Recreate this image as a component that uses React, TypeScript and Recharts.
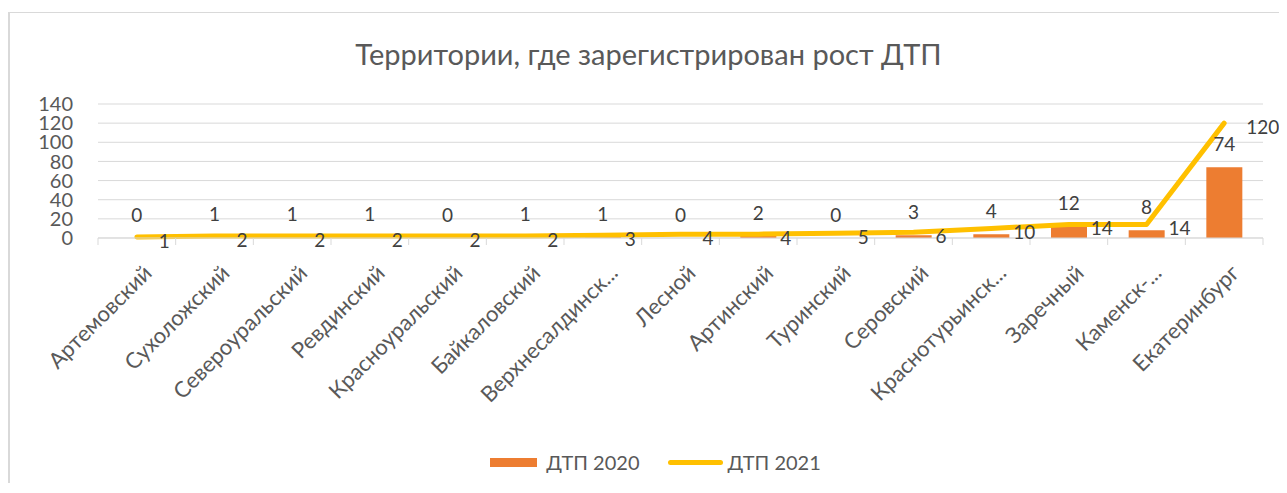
import React from "react"
import { Bar, CartesianGrid, ComposedChart, LabelList, Legend, Line, XAxis, YAxis } from "recharts"

const categories = [
  "Артемовский",
  "Сухоложский",
  "Североуральский",
  "Ревдинский",
  "Красноуральский",
  "Байкаловский",
  "Верхнесалдинск...",
  "Лесной",
  "Артинский",
  "Туринский",
  "Серовский",
  "Краснотурьинск...",
  "Заречный",
  "Каменск-...",
  "Екатеринбург",
]
const dtp2020 = [0, 1, 1, 1, 0, 1, 1, 0, 2, 0, 3, 4, 12, 8, 74]
const dtp2021 = [1, 2, 2, 2, 2, 2, 3, 4, 4, 5, 6, 10, 14, 14, 120]
const yTicks = [0, 20, 40, 60, 80, 100, 120, 140]

const data = categories.map((name, i) => ({ name, dtp2020: dtp2020[i], dtp2021: dtp2021[i] }))

const W = 1277
const H = 470
const margin = { top: 91, right: 24, bottom: 0, left: 0 }
const yAxisWidth = 88
const band = (W - margin.left - margin.right - yAxisWidth) / categories.length

const font = "Lato, 'Open Sans', sans-serif"
const axisColor = "#595959"
const labelColor = "#404040"
const gridColor = "#d9d9d9"
const orange = "#ED7D31"
const gold = "#FFC000"

function CategoryTick({ x, y, payload, index }: any) {
  const half = band / 2
  const ax = x + 11
  const ay = y + 31
  return (
    <g>
      <line x1={x - half} x2={x - half} y1={y} y2={y + 7} stroke={gridColor} />
      {index === categories.length - 1 && (
        <line x1={x + half} x2={x + half} y1={y} y2={y + 7} stroke={gridColor} />
      )}
      <text
        x={ax}
        y={ay}
        dy="0.35em"
        textAnchor="end"
        transform={`rotate(-45 ${ax} ${ay})`}
        fontSize={22}
        fontFamily={font}
        fill={axisColor}
      >
        {payload.value}
      </text>
    </g>
  )
}

// bar values sit above the bar top, zero bars included
function BarValueLabel({ x, y, value }: any) {
  return (
    <text
      x={x}
      y={y - 24}
      textAnchor="middle"
      dominantBaseline="central"
      fontSize={19}
      fontFamily={font}
      fill={labelColor}
    >
      {value}
    </text>
  )
}

function LineValueLabel({ x, y, value }: any) {
  return (
    <text x={x + 22} y={y + 3} dominantBaseline="central" fontSize={19} fontFamily={font} fill={labelColor}>
      {value}
    </text>
  )
}

function ChartLegend() {
  return (
    <div
      style={{
        display: "flex",
        justifyContent: "center",
        alignItems: "center",
        fontFamily: font,
        fontSize: 20,
        color: axisColor,
        paddingLeft: 14,
      }}
    >
      <span style={{ display: "inline-block", width: 47, height: 9, background: orange, marginRight: 9 }} />
      <span style={{ marginRight: 28 }}>ДТП 2020</span>
      <span
        style={{ display: "inline-block", width: 55, height: 5, borderRadius: 3, background: gold, marginRight: 5 }}
      />
      <span>ДТП 2021</span>
    </div>
  )
}

export default function App() {
  return (
    <div style={{ paddingTop: 4 }}>
      <div
        style={{
          position: "relative",
          width: W,
          height: H,
          borderTop: `1px solid ${gridColor}`,
          borderLeft: `2px solid ${gridColor}`,
          background: "#fff",
        }}
      >
        <div
          style={{
            position: "absolute",
            top: 23,
            left: 0,
            width: W,
            textAlign: "center",
            fontFamily: font,
            fontSize: 29,
            color: axisColor,
          }}
        >
          Территории, где зарегистрирован рост ДТП
        </div>
        <ComposedChart width={W} height={H} data={data} margin={margin}>
          <CartesianGrid vertical={false} stroke={gridColor} />
          <XAxis
            dataKey="name"
            interval={0}
            height={H - 225}
            tickLine={false}
            tickSize={0}
            tickMargin={0}
            axisLine={{ stroke: gridColor }}
            tick={<CategoryTick />}
          />
          <YAxis
            width={yAxisWidth}
            domain={[0, 140]}
            ticks={yTicks}
            interval={0}
            axisLine={false}
            tickLine={false}
            tickSize={0}
            tickMargin={25}
            tick={{ fontSize: 20, fontFamily: font, fill: axisColor }}
          />
          <Legend
            verticalAlign="middle"
            align="center"
            wrapperStyle={{ top: 437, left: 0, width: W }}
            content={() => <ChartLegend />}
          />
          <Bar dataKey="dtp2020" name="ДТП 2020" fill={orange} barSize={36} isAnimationActive={false} />
          <Line
            dataKey="dtp2021"
            name="ДТП 2021"
            stroke={gold}
            strokeWidth={5}
            strokeLinecap="round"
            strokeLinejoin="round"
            dot={false}
            activeDot={false}
            isAnimationActive={false}
          >
            <LabelList dataKey="dtp2021" content={<LineValueLabel />} />
          </Line>
          <Line
            dataKey="dtp2020"
            stroke="none"
            legendType="none"
            dot={false}
            activeDot={false}
            isAnimationActive={false}
          >
            <LabelList dataKey="dtp2020" content={<BarValueLabel />} />
          </Line>
        </ComposedChart>
      </div>
    </div>
  )
}
